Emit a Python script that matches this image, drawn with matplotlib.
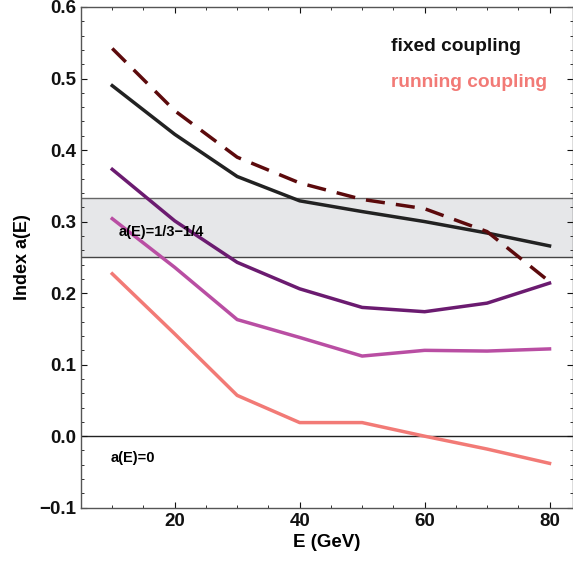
import numpy as np
import matplotlib.pyplot as plt
from matplotlib.ticker import MultipleLocator

plt.rcParams['font.family'] = ['Liberation Sans', 'DejaVu Sans']
plt.rcParams['font.weight'] = 'bold'

energy = [10, 20, 30, 40, 50, 60, 70, 80]

# fixed coupling curves
fixed_dashed = [0.542, 0.455, 0.390, 0.354, 0.331, 0.318, 0.286, 0.216]
fixed_solid = [0.490, 0.422, 0.363, 0.329, 0.314, 0.300, 0.284, 0.266]

# running coupling curves
running_dark = [0.373, 0.301, 0.243, 0.206, 0.180, 0.174, 0.186, 0.214]
running_mid = [0.304, 0.236, 0.163, 0.138, 0.112, 0.120, 0.119, 0.122]
running_light = [0.227, 0.143, 0.057, 0.019, 0.019, 0.000, -0.018, -0.038]

band_lo, band_hi = 0.25, 1 / 3

fig = plt.figure(figsize=(5.73, 5.63), dpi=100)
ax = fig.add_axes([0.1414, 0.0982, 0.858, 0.8894])

ax.axhspan(band_lo, band_hi, color='#e6e7e9', lw=0, zorder=0)
ax.axhline(band_lo, color='#444444', lw=1.0, zorder=1)
ax.axhline(band_hi, color='#666666', lw=1.0, zorder=1)
ax.axhline(0, color='#222222', lw=1.0, zorder=1)

ax.plot(energy, running_light, color='#f27a76', lw=2.5, zorder=3)
ax.plot(energy, running_mid, color='#b94ea3', lw=2.5, zorder=3)
ax.plot(energy, running_dark, color='#6b1b70', lw=2.5, zorder=3)
ax.plot(energy, fixed_solid, color='#222222', lw=2.5, zorder=4)
ax.plot(energy, fixed_dashed, color='#5c0a0c', lw=2.5, dashes=(5.5, 3.2), zorder=5)

ax.text(54.6, 0.545, 'fixed coupling', color='#111111', fontsize=13.8, weight='bold', va='center')
ax.text(54.6, 0.495, 'running coupling', color='#f27a76', fontsize=13.8, weight='bold', va='center')
ax.text(11.0, 0.286, 'a(E)=1/3\u22121/4', fontsize=10.5, weight='bold', va='center')
ax.text(9.8, -0.031, 'a(E)=0', fontsize=10.5, weight='bold', va='center')

ax.set_xlim(5, 83.7)
ax.set_ylim(-0.1, 0.6)
ax.xaxis.set_major_locator(MultipleLocator(20))
ax.xaxis.set_minor_locator(MultipleLocator(5))
ax.yaxis.set_major_locator(MultipleLocator(0.1))
ax.yaxis.set_minor_locator(MultipleLocator(0.02))
ax.set_xticks([20, 40, 60, 80])
ax.set_yticks(np.arange(-0.1, 0.61, 0.1))
ax.set_yticklabels(['\u22120.1', '0.0', '0.1', '0.2', '0.3', '0.4', '0.5', '0.6'])
ax.tick_params(which='both', direction='in', top=True, right=True, labelsize=13.5, colors='#111111')
ax.tick_params(which='major', length=4, width=0.8)
ax.tick_params(which='minor', length=2, width=0.6)
for s in ax.spines.values():
    s.set_color('#555555')
    s.set_linewidth(1.0)

ax.set_xlabel('E (GeV)', fontsize=13.5, weight='bold', labelpad=3)
ax.set_ylabel('Index a(E)', fontsize=13, weight='bold', labelpad=6)

fig.savefig('out.png', dpi=100)
